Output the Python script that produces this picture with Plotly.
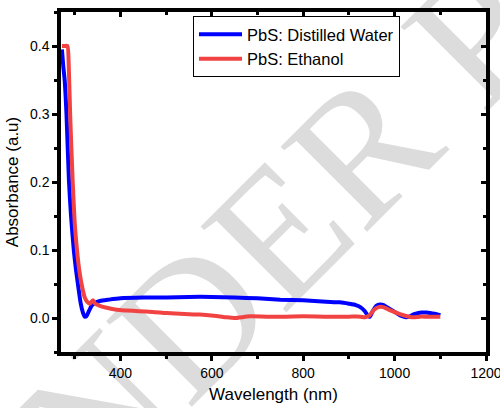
import plotly.graph_objects as go

# Absorbance spectra of PbS prepared in two solvents
wl_water = [272, 275, 278, 282, 287.5, 292, 298, 303, 308, 313, 318, 322, 326, 331, 337, 344,
            355, 375, 400, 450, 500, 550, 600, 650, 700, 750, 800, 850, 880, 900, 915, 925,
            935, 942, 946, 952, 960, 968, 976, 985, 995, 1005, 1015, 1025, 1032, 1040, 1050,
            1060, 1070, 1080, 1090, 1100]
abs_water = [0.395, 0.37, 0.35, 0.30, 0.20, 0.15, 0.10, 0.07, 0.045, 0.022, 0.008, 0.002, 0.003,
             0.010, 0.018, 0.022, 0.025, 0.027, 0.029, 0.030, 0.030, 0.031, 0.031, 0.030, 0.029,
             0.027, 0.026, 0.024, 0.023, 0.021, 0.019, 0.016, 0.010, 0.003, 0.002, 0.010, 0.018,
             0.020, 0.019, 0.015, 0.011, 0.007, 0.003, 0.001, 0.002, 0.005, 0.007, 0.008, 0.008,
             0.007, 0.006, 0.004]

wl_ethanol = [272, 278, 284, 287, 290, 295.6, 300, 305, 310, 315, 322, 327, 333, 337, 340, 345,
              355, 370, 392, 414, 440, 470, 501, 540, 574, 610, 632, 650, 683, 720, 760, 800,
              850, 900, 925, 935, 945, 955, 965, 975, 985, 995, 1010, 1025, 1040, 1055, 1070,
              1085, 1100]
abs_ethanol = [0.400, 0.400, 0.400, 0.370, 0.300, 0.200, 0.140, 0.100, 0.070, 0.050, 0.030,
               0.024, 0.021, 0.024, 0.026, 0.021, 0.018, 0.015, 0.012, 0.011, 0.010, 0.009,
               0.0073, 0.006, 0.005, 0.003, 0.001, 0.000, 0.0025, 0.002, 0.002, 0.0025, 0.002,
               0.002, 0.002, 0.001, 0.004, 0.012, 0.016, 0.016, 0.013, 0.010, 0.006, 0.003,
               0.001, 0.002, 0.002, 0.002, 0.002]

series_names = ["PbS: Distilled Water", "PbS: Ethanol"]
series_colors = ["#0000FF", "#F24343"]

x_ticks = [400, 600, 800, 1000, 1200]
y_ticks = [0.0, 0.1, 0.2, 0.3, 0.4]

FONT = "Liberation Sans, Arial"

fig = go.Figure()
for wl, ab, name, color in zip([wl_water, wl_ethanol], [abs_water, abs_ethanol],
                               series_names, series_colors):
    fig.add_trace(go.Scatter(x=wl, y=ab, mode="lines", name=name,
                             line=dict(color=color, width=4, shape="spline", smoothing=0.6)))

# plot-area geometry in pixels, used to place the watermark
L, R, T, B = 61, 486, 12, 352
W, H = 500, 408


def px_to_paper(px, py):
    return (px - L) / (R - L), (B - py) / (B - T)


cx, cy = 613, -131
x0, y0 = px_to_paper(cx - 150, cy + 150)
x1, y1 = px_to_paper(cx + 150, cy - 150)
fig.add_shape(type="line", xref="paper", yref="paper", x0=x0, y0=y0, x1=x1, y1=y1,
              line=dict(width=0, color="rgba(0,0,0,0)"), layer="below",
              label=dict(text="UNDER PEER REVIEW", textangle=-45, textposition="middle",
                         yanchor="middle", xanchor="center",
                         font=dict(family="Liberation Serif", size=185, color="#dcdcdc")))

axis_common = dict(showline=True, linecolor="black", linewidth=3.5, showgrid=False,
                   zeroline=False, tickcolor="black", tickwidth=3, automargin=False,
                   ticklabeloverflow="allow",
                   tickfont=dict(family=FONT, size=14, color="black"))

fig.update_layout(
    template="none",
    width=W, height=H,
    margin=dict(l=L, r=W - R, t=T, b=H - B),
    plot_bgcolor="white", paper_bgcolor="white",
    showlegend=True,
    legend=dict(x=(193 - L) / (R - L), y=(B - 16) / (B - T), xanchor="left", yanchor="top",
                bgcolor="white", bordercolor="black", borderwidth=1,
                font=dict(family=FONT, size=16.5, color="black"),
                itemwidth=43, tracegroupgap=0),
    xaxis=dict(range=[270, 1200], tickmode="array", tickvals=x_ticks,
               ticks="outside", ticklen=5,
               minor=dict(ticks="outside", ticklen=3, tickwidth=2.5, dtick=100, tick0=0,
                          tickcolor="black"),
               title=dict(text="Wavelength (nm)", standoff=10,
                          font=dict(family=FONT, size=17, color="black")),
               **axis_common),
    yaxis=dict(range=[-0.05, 0.45], tickmode="array", tickvals=y_ticks,
               ticktext=[f"{v:.1f}" for v in y_ticks],
               ticks="outside", ticklen=5,
               minor=dict(ticks="outside", ticklen=3, tickwidth=2.5, dtick=0.05, tick0=0,
                          tickcolor="black"),
               title=dict(text="Absorbance (a.u)", standoff=8,
                          font=dict(family=FONT, size=17, color="black")),
               **axis_common),
    xaxis2=dict(overlaying="x", side="top", matches="x", anchor="y", showticklabels=False,
                ticks="inside", ticklen=5, tickvals=x_ticks, automargin=False,
                minor=dict(ticks="inside", ticklen=3, tickwidth=2.5, dtick=100, tick0=0,
                           tickcolor="black"),
                showline=True, linecolor="black", linewidth=3.5, showgrid=False,
                zeroline=False, tickcolor="black", tickwidth=3),
    yaxis2=dict(overlaying="y", side="right", matches="y", anchor="x", showticklabels=False,
                ticks="inside", ticklen=5, tickvals=y_ticks, automargin=False,
                minor=dict(ticks="inside", ticklen=3, tickwidth=2.5, dtick=0.05, tick0=0,
                           tickcolor="black"),
                showline=True, linecolor="black", linewidth=3.5, showgrid=False,
                zeroline=False, tickcolor="black", tickwidth=3),
)

# hidden companion trace so the mirrored top/right axes are drawn
fig.add_trace(go.Scatter(x=wl_water[:1], y=abs_water[:1], xaxis="x2", yaxis="y2",
                         mode="lines", showlegend=False, hoverinfo="skip",
                         line=dict(color="rgba(0,0,0,0)")))

fig.write_html("out.html")
